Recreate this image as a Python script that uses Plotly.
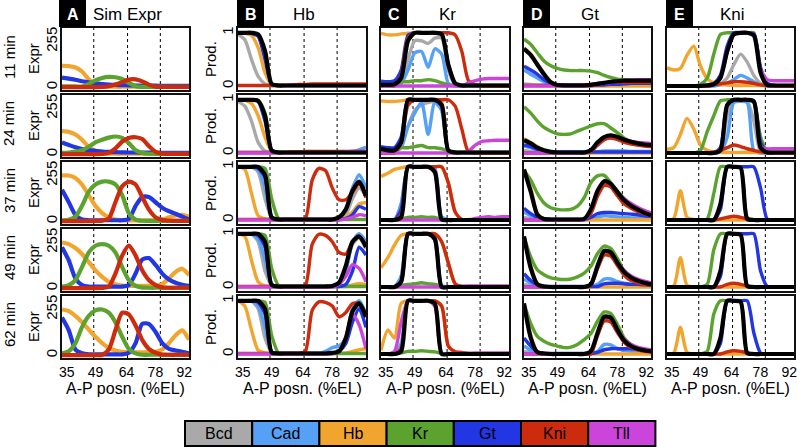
import plotly.graph_objects as go

W, H = 797, 447
FONT = "Liberation Sans, Arial, Helvetica, sans-serif"

# ---------------- data ----------------
# sample positions along the A-P axis (%EL)
X = [32.7, 36.0, 39.2, 42.4, 45.7, 48.9, 52.2, 55.4, 58.6, 61.9,
     65.1, 68.4, 71.6, 74.8, 78.1, 81.3, 84.6, 87.8, 91.0, 94.3]
X_RANGE = [32.7, 94.3]
X_TICKS = [35, 49, 64, 78, 92]
DASH_X = [48.1, 64.5, 80.4]
ROW_LABELS = ["11 min", "24 min", "37 min", "49 min", "62 min"]
COL_LETTERS = ["A", "B", "C", "D", "E"]
COL_TITLES = ["Sim Expr", "Hb", "Kr", "Gt", "Kni"]
LEGEND_NAMES = ["Bcd", "Cad", "Hb", "Kr", "Gt", "Kni", "Tll"]
EXPR_TICKS = [0, 255]
PROD_TICKS = [0, 1]

# Column A: simulated expression (0-255)
A1 = dict(
    hb=[120, 118, 110, 88, 45, 15, 6, 4, 3, 3, 3, 3, 3, 3, 3, 3, 3, 3, 3, 3],
    gt=[54, 48, 42, 34, 28, 22, 18, 15, 13, 12, 11, 10, 10, 9, 9, 8, 8, 8, 8, 8],
    kr=[5, 5, 5, 4, 19, 39, 52, 58, 56, 46, 25, 6, 2, 2, 2, 2, 2, 2, 2, 2],
    kni=[1, 1, 1, 1, 1, 1, 2, 6, 15, 29, 43, 44, 33, 15, 4, 2, 2, 2, 2, 2])
A2 = dict(
    hb=[129, 125, 110, 81, 42, 19, 8, 4, 3, 3, 3, 3, 3, 3, 3, 3, 3, 3, 3, 3],
    gt=[66, 52, 39, 29, 23, 19, 15, 13, 12, 11, 10, 10, 9, 9, 9, 8, 8, 8, 8, 8],
    kr=[8, 10, 15, 23, 42, 66, 81, 93, 99, 91, 62, 23, 8, 3, 2, 2, 2, 2, 2, 2],
    kni=[1, 1, 1, 1, 1, 1, 2, 8, 33, 71, 91, 95, 85, 46, 14, 4, 2, 2, 2, 2])
A3 = dict(
    hb=[255, 255, 241, 205, 145, 86, 46, 22, 10, 6, 5, 5, 5, 5, 6, 10, 22, 32, 36, 26],
    gt=[175, 106, 36, 10, 6, 6, 6, 6, 6, 6, 12, 86, 135, 135, 106, 76, 56, 42, 26, 10],
    kr=[6, 8, 26, 86, 165, 205, 221, 221, 205, 145, 46, 10, 3, 2, 2, 2, 2, 2, 2, 2],
    kni=[1, 1, 1, 1, 1, 2, 4, 16, 106, 195, 221, 205, 135, 66, 22, 8, 3, 2, 2, 2])
A4 = dict(
    hb=[255, 246, 224, 191, 146, 100, 64, 36, 22, 15, 13, 13, 13, 13, 13, 24, 55, 91, 109, 73],
    gt=[228, 155, 55, 18, 9, 9, 9, 9, 9, 9, 18, 82, 160, 168, 130, 82, 49, 31, 20, 13],
    kr=[9, 18, 46, 118, 200, 237, 246, 237, 200, 118, 46, 13, 4, 3, 3, 3, 3, 3, 3, 3],
    kni=[1, 1, 1, 1, 1, 1, 2, 9, 82, 182, 237, 182, 100, 46, 18, 5, 3, 3, 3, 3])
A5 = dict(
    hb=[255, 246, 219, 184, 143, 103, 68, 41, 27, 20, 18, 16, 16, 16, 20, 32, 68, 112, 139, 86],
    gt=[210, 139, 32, 11, 5, 5, 5, 5, 5, 5, 14, 68, 175, 175, 130, 68, 36, 27, 20, 11],
    kr=[11, 23, 68, 157, 219, 250, 255, 237, 184, 103, 36, 11, 3, 3, 3, 3, 3, 3, 3, 3],
    kni=[1, 1, 1, 1, 1, 1, 3, 32, 139, 237, 228, 166, 86, 36, 14, 4, 3, 3, 3, 3])

# Column B: Hb production
B1 = dict(
    bcd=[.97, .87, .5, .18, .04, .01, .01, .01, .01, .01, .01, .01, .01, .01, .01, .01, .01, .01, .01, .01],
    hb=[1, .99, .95, .72, .25, .02, .01, .01, .01, .01, .01, .01, .01, .01, .01, .01, .01, .01, .01, .01],
    gt=[1, 1, .99, .93, .5, .03, .01, .01, .01, .01, .01, .01, .01, .01, .01, .01, .01, .01, .01, .01],
    kni=[.01, .01, .01, .01, .01, .01, .01, .01, .02, .03, .03, .04, .04, .04, .04, .04, .04, .04, .04, .04],
    prod=[1, 1, 1, .97, .66, .04, .01, .01, .01, .01, .01, .01, .01, .01, .01, .01, .01, .01, .01, .01])
B2 = dict(
    bcd=[.97, .88, .6, .2, .04, .01, .01, .01, .01, .01, .01, .01, .01, .01, .01, .01, .01, .01, .01, .01],
    cad=[.01, .01, .01, .01, .01, .01, .01, .01, .01, .01, .01, .01, .01, .01, .01, .02, .02, .03, .06, .11],
    hb=[1, .99, .93, .7, .3, .03, .01, .01, .01, .01, .01, .01, .01, .01, .01, .01, .01, .01, .01, .01],
    kr=[1, 1, 1, .99, .75, .05, .01, .01, .01, .01, .01, .01, .01, .01, .01, .01, .01, .01, .01, .01],
    gt=[1, 1, 1, .97, .6, .04, .01, .01, .01, .01, .01, .01, .01, .01, .01, .01, .01, .01, .01, .01],
    kni=[.01, .01, .01, .01, .01, .01, .01, .01, .02, .02, .03, .03, .03, .03, .03, .03, .03, .03, .03, .03],
    tll=[0, 0, 0, 0, 0, 0, 0, 0, 0, 0, 0, 0, 0, 0, .01, .01, .02, .03, .03, .03],
    prod=[1, 1, 1, .98, .7, .05, .01, .01, .01, .01, .01, .01, .01, .01, .01, .01, .01, .01, .01, .01])
B3 = dict(
    bcd=[1, 1, 1, .9, .4, .05, .01, .01, .01, .01, .01, .01, .01, .01, .02, .04, .1, .4, .6, .45],
    cad=[1, 1, 1, .95, .6, .05, .01, .01, .01, .01, .01, .01, .01, .01, .01, .05, .2, .6, .85, .6],
    hb=[1, .95, .5, .08, .02, .01, .01, .01, .01, .01, .01, .01, .01, .01, .01, .02, .05, .15, .3, .33],
    kr=[1, 1, 1, 1, .97, .4, .03, .01, .01, .01, .01, .01, .01, .01, .01, .01, .01, .01, .01, .01],
    gt=[1, 1, 1, .97, .8, .05, .01, .01, .01, .01, .01, .01, .01, .01, .01, .01, .03, .1, .25, .2],
    kni=[.01, .01, .01, .01, .01, .01, .01, .01, .01, .01, .02, .75, .97, .93, .6, .38, .38, .52, .68, .42],
    tll=[0, 0, 0, 0, 0, 0, 0, 0, 0, 0, 0, 0, 0, 0, 0, 0, .02, .05, .1, .08],
    prod=[1, 1, 1, 1, .85, .05, .01, .01, .01, .01, .01, .01, .01, .01, .01, .05, .2, .55, .72, .45])
B4 = dict(
    bcd=[1, 1, 1, .85, .3, .03, .01, .01, .01, .01, .01, .01, .01, .01, .01, .05, .35, .8, .92, .72],
    cad=[1, 1, 1, .9, .5, .04, .01, .01, .01, .01, .01, .01, .01, .01, .01, .08, .3, .85, 1, .85],
    hb=[1, .95, .5, .1, .02, .01, .01, .01, .01, .01, .01, .01, .01, .01, .01, .01, .01, .04, .06, .05],
    kr=[1, 1, 1, 1, .97, .35, .03, .01, .01, .01, .01, .01, .01, .01, .01, .01, .01, .01, .01, .01],
    gt=[1, 1, 1, .97, .75, .05, .01, .01, .01, .01, .01, .01, .01, .01, .01, .01, .05, .3, .75, .6],
    kni=[.01, .01, .01, .01, .01, .01, .01, .01, .01, .01, .03, .8, .99, .97, .85, .65, .62, .85, .95, .78],
    tll=[0, 0, 0, 0, 0, 0, 0, 0, 0, 0, 0, 0, 0, 0, 0, .05, .2, .42, .35, .1],
    prod=[1, 1, 1, 1, .85, .04, .01, .01, .01, .01, .01, .01, .01, .01, .02, .08, .4, .85, .95, .75])
B5 = dict(
    bcd=[1, 1, 1, .85, .3, .03, .01, .01, .01, .01, .01, .01, .01, .01, .02, .05, .3, .8, .92, .68],
    cad=[1, 1, 1, .9, .5, .04, .01, .01, .01, .01, .01, .01, .01, .05, .12, .15, .3, .85, 1, .75],
    hb=[1, .9, .45, .07, .02, .01, .01, .01, .01, .01, .01, .01, .01, .01, .01, .01, .02, .05, .08, .1],
    kr=[1, 1, 1, 1, .97, .35, .02, .01, .01, .01, .01, .01, .01, .01, .01, .01, .01, .01, .01, .01],
    gt=[1, 1, 1, .97, .75, .04, .01, .01, .01, .01, .01, .01, .01, .01, .01, .05, .2, .6, .85, .5],
    kni=[.01, .01, .01, .01, .01, .01, .01, .01, .01, .01, .05, .82, .98, .97, .9, .7, .78, .95, .95, .75],
    tll=[0, 0, 0, 0, 0, 0, 0, 0, 0, 0, 0, 0, 0, 0, .01, .05, .3, .75, .55, .1],
    prod=[1, 1, 1, 1, .85, .03, .01, .01, .01, .01, .01, .01, .01, .01, .02, .05, .3, .8, .95, .7])

# Column C: Kr production
C1 = dict(
    bcd=[0, 0, .01, .05, .5, .85, .85, .8, .9, .9, .3, .02, 0, 0, 0, 0, 0, 0, 0, 0],
    cad=[0, 0, .01, .05, .3, .62, .65, .35, .7, .6, .05, 0, 0, 0, 0, 0, 0, 0, 0, 0],
    hb=[.99, .96, .96, .98, .99, 1, 1, 1, 1, .98, .4, .03, .01, .01, .01, .01, .01, .01, .01, .01],
    kr=[.03, .05, .05, .08, .08, .1, .1, .12, .1, .06, .02, .01, .01, .01, .01, .01, .01, .01, .01, .01],
    gt=[.09, .08, .1, .3, .95, 1, 1, 1, 1, .98, .4, .03, .01, .01, .01, .01, .01, .01, .01, .01],
    kni=[0, 0, 0, .2, .9, 1, 1, 1, 1, 1, 1, .96, .65, .1, .02, 0, 0, 0, 0, 0],
    tll=[0, 0, 0, 0, 0, 0, 0, 0, 0, 0, 0, 0, 0, .06, .1, .13, .14, .14, .14, .14],
    prod=[.02, .02, .03, .15, .85, 1, 1, 1, 1, .97, .4, .05, .01, .01, .01, .01, .01, .01, .01, .01])
C2 = dict(
    bcd=[0, 0, .02, .2, .5, .8, .9, .95, .97, .8, .05, 0, 0, 0, 0, 0, 0, 0, 0, 0],
    cad=[0, 0, .02, .1, .5, .75, .95, .35, .95, .8, .05, 0, 0, 0, 0, 0, 0, 0, 0, 0],
    hb=[.98, .97, .97, .98, 1, 1, 1, 1, 1, .95, .05, .01, .01, .01, .01, .01, .01, .01, .01, .01],
    kr=[.05, .06, .08, .1, .1, .12, .14, .1, .1, .08, .04, .02, .01, .01, .01, .01, .01, .01, .01, .01],
    gt=[.12, .1, .1, .3, 1, 1, 1, 1, 1, .9, .05, .01, .01, .01, .01, .01, .01, .01, .01, .01],
    kni=[0, 0, 0, .2, .9, 1, 1, 1, 1, 1, 1, .88, .45, .02, 0, 0, 0, 0, 0, 0],
    tll=[0, 0, 0, 0, 0, 0, 0, 0, 0, 0, 0, 0, 0, .03, .15, .22, .23, .24, .24, .24],
    prod=[.08, .05, .05, .2, 1, 1, 1, 1, 1, .9, .05, .01, .01, .01, .01, .01, .01, .01, .01, .01])
C3 = dict(
    bcd=[0, 0, 0, .3, 1, 1, 1, 1, .95, .03, 0, 0, 0, 0, 0, 0, 0, 0, 0, 0],
    cad=[0, 0, 0, .3, 1, 1, 1, 1, .97, .06, 0, 0, 0, 0, 0, 0, 0, 0, 0, 0],
    hb=[.82, .88, .95, .98, 1, 1, 1, 1, 1, 1, .7, .15, .01, .01, .01, .01, .01, .01, .01, .01],
    kr=[0, 0, 0, .02, .05, .05, .06, .05, .05, .01, 0, 0, 0, 0, 0, 0, 0, 0, 0, 0],
    gt=[0, 0, 0, .2, 1, 1, 1, 1, .9, .02, 0, 0, 0, 0, 0, 0, 0, 0, 0, 0],
    kni=[0, 0, 0, .1, 1, 1, 1, 1, 1, 1, .7, .15, .01, 0, 0, 0, 0, 0, 0, 0],
    tll=[0, 0, 0, 0, 0, 0, 0, 0, 0, 0, 0, 0, 0, 0, .03, .05, .06, .05, .06, .06],
    prod=[0, 0, 0, .05, 1, 1, 1, 1, .9, .01, 0, 0, 0, 0, 0, 0, 0, 0, 0, 0])
C4 = dict(
    bcd=[0, 0, 0, .2, 1, 1, 1, 1, .92, .01, 0, 0, 0, 0, 0, 0, 0, 0, 0, 0],
    cad=[0, 0, 0, .2, 1, 1, 1, 1, .95, .03, 0, 0, 0, 0, 0, 0, 0, 0, 0, 0],
    hb=[.36, .55, .79, .97, 1, 1, 1, 1, 1, .85, .45, .06, .01, .01, .01, .01, .01, .01, .01, .01],
    kr=[0, 0, 0, .03, .05, .06, .08, .06, .05, .01, 0, 0, 0, 0, 0, 0, 0, 0, 0, 0],
    gt=[0, 0, 0, .1, 1, 1, 1, 1, .9, 0, 0, 0, 0, 0, 0, 0, 0, 0, 0, 0],
    kni=[0, 0, 0, .1, 1, 1, 1, 1, 1, .85, .45, .06, .01, 0, 0, 0, 0, 0, 0, 0],
    tll=[0, 0, 0, 0, 0, 0, 0, 0, 0, 0, 0, 0, .01, .02, .02, .02, .02, .02, .02, .02],
    prod=[0, 0, 0, .1, 1, 1, 1, 1, .9, 0, 0, 0, 0, 0, 0, 0, 0, 0, 0, 0])
C5 = dict(
    cad=[0, 0, 0, .2, 1, 1, 1, 1, .95, .02, 0, 0, 0, 0, 0, 0, 0, 0, 0, 0],
    hb=[.07, .45, .3, .95, 1, 1, 1, 1, 1, .9, .15, .04, .01, .01, .01, .01, .01, .01, .01, .01],
    kr=[0, 0, 0, .02, .05, .05, .06, .05, .04, .01, 0, 0, 0, 0, 0, 0, 0, 0, 0, 0],
    kni=[0, 0, 0, .1, 1, 1, 1, 1, 1, .9, .15, .04, .03, .01, 0, 0, 0, 0, 0, 0],
    tll=[0, 0, .05, .6, 1, 1, 1, 1, .9, .01, .01, .01, .01, .01, .02, .02, .02, .02, .02, .02],
    prod=[0, 0, 0, .05, 1, 1, 1, 1, .95, 0, 0, 0, 0, 0, 0, 0, 0, 0, 0, 0])

# Column D: Gt production
D1 = dict(
    bcd=[.04, .03, .02, .02, .02, .02, .02, .02, .02, .02, .02, .02, .02, .02, .02, .02, .02, .02, .02, .02],
    cad=[.3, .22, .15, .08, .03, .01, .01, .01, .01, .01, .01, .01, .01, .02, .02, .03, .04, .04, .04, .04],
    hb=[.72, .6, .42, .24, .08, .02, .01, 0, 0, 0, 0, 0, 0, 0, 0, 0, 0, 0, 0, 0],
    kr=[.88, .78, .62, .47, .38, .33, .3, .29, .29, .29, .28, .25, .2, .16, .13, .12, .11, .1, .1, .1],
    gt=[.37, .3, .22, .12, .05, .02, .02, .02, .02, .02, .02, .02, .02, .03, .03, .04, .05, .05, .05, .05],
    kni=[.01, .01, .01, .01, .01, .01, .01, .01, .01, .02, .03, .05, .06, .07, .07, .07, .07, .07, .07, .07],
    tll=[0, 0, 0, 0, 0, 0, 0, 0, 0, 0, 0, .03, .05, .07, .08, .1, .11, .12, .12, .12],
    prod=[.7, .58, .4, .22, .07, .02, .01, .01, .01, .01, .02, .04, .06, .08, .09, .1, .1, .1, .1, .1])
D2 = dict(
    bcd=[.05, .03, .02, .02, .01, .01, .01, .01, .01, .01, .04, .15, .25, .3, .28, .23, .2, .17, .15, .14],
    cad=[.13, .1, .06, .03, .01, .01, .01, .01, .01, .01, .01, .02, .04, .04, .04, .04, .03, .03, .03, .03],
    hb=[.27, .2, .12, .05, .02, .01, 0, 0, 0, 0, 0, 0, 0, 0, 0, 0, 0, 0, 0, 0],
    kr=[.87, .75, .6, .48, .41, .36, .35, .36, .41, .46, .51, .55, .55, .47, .38, .28, .22, .19, .17, .16],
    gt=[.15, .12, .07, .04, .02, .02, .02, .02, .02, .02, .02, .02, .02, .02, .02, .02, .02, .02, .02, .02],
    kni=[0, 0, 0, 0, 0, 0, 0, 0, 0, 0, .03, .15, .25, .28, .25, .2, .17, .15, .13, .12],
    tll=[0, 0, 0, 0, 0, 0, 0, 0, 0, 0, .04, .19, .29, .32, .29, .25, .22, .2, .19, .18],
    prod=[.24, .18, .1, .05, .02, .01, .01, .01, .01, .01, .05, .2, .3, .33, .3, .25, .21, .18, .16, .15])
D3 = dict(
    bcd=[.05, .03, .02, .01, .01, .01, .01, .01, .01, .01, .15, .5, .68, .64, .48, .33, .24, .18, .13, .08],
    cad=[.15, .08, .03, .01, .01, .01, .01, .01, .01, .01, .02, .05, .08, .07, .06, .05, .04, .04, .03, .03],
    hb=[.95, .6, .12, .02, .01, 0, 0, 0, 0, 0, 0, 0, 0, 0, 0, 0, 0, 0, 0, 0],
    kr=[.93, .75, .5, .32, .23, .2, .19, .2, .26, .42, .7, .83, .84, .7, .54, .4, .3, .22, .16, .11],
    gt=[.22, .12, .05, .02, .01, .01, .01, .01, .01, .01, .05, .12, .14, .14, .13, .12, .11, .1, .08, .07],
    kni=[0, 0, 0, 0, 0, 0, 0, 0, 0, .01, .12, .45, .65, .62, .45, .3, .22, .16, .12, .08],
    tll=[0, 0, 0, 0, 0, 0, 0, 0, 0, 0, .19, .54, .72, .67, .52, .4, .31, .24, .18, .13],
    prod=[.95, .53, .1, .02, .01, .01, .01, .01, .01, .02, .2, .55, .73, .68, .52, .37, .27, .2, .14, .09])
D4 = dict(
    bcd=[.05, .02, .01, .01, 0, 0, 0, 0, 0, 0, .04, .38, .64, .62, .43, .25, .15, .1, .06, .05],
    cad=[.15, .07, .02, .01, 0, 0, 0, 0, 0, 0, .01, .05, .15, .15, .1, .07, .05, .04, .03, .03],
    hb=[.95, .4, .06, .01, 0, 0, 0, 0, 0, 0, 0, 0, 0, 0, 0, 0, 0, 0, 0, 0],
    kr=[.95, .56, .32, .23, .17, .15, .14, .15, .19, .26, .39, .63, .77, .72, .53, .3, .18, .12, .08, .05],
    gt=[.25, .12, .04, .01, .01, .01, .01, .01, .01, .01, .01, .01, .06, .07, .07, .06, .05, .05, .04, .03],
    kni=[0, 0, 0, 0, 0, 0, 0, 0, 0, 0, .03, .35, .6, .58, .4, .22, .12, .08, .05, .04],
    tll=[0, 0, 0, 0, 0, 0, 0, 0, 0, 0, .04, .39, .67, .64, .45, .31, .21, .15, .11, .08],
    prod=[.95, .35, .05, .01, 0, 0, 0, 0, 0, 0, .05, .4, .68, .65, .45, .28, .18, .12, .08, .05])
D5 = dict(
    bcd=[.05, .02, .01, .01, 0, 0, 0, 0, 0, 0, 0, .38, .66, .64, .43, .23, .14, .09, .06, .05],
    cad=[.15, .07, .02, .01, 0, 0, 0, 0, 0, 0, .01, .05, .18, .17, .1, .07, .05, .04, .03, .03],
    hb=[.95, .35, .04, .01, 0, 0, 0, 0, 0, 0, 0, 0, 0, 0, 0, 0, 0, 0, 0, 0],
    kr=[.95, .57, .33, .24, .18, .15, .12, .13, .18, .27, .38, .62, .79, .76, .55, .3, .18, .11, .08, .06],
    gt=[.3, .15, .04, .01, .01, .01, .01, .01, .01, .01, .01, .03, .08, .1, .1, .1, .1, .09, .08, .07],
    kni=[0, 0, 0, 0, 0, 0, 0, 0, 0, 0, 0, .35, .62, .6, .4, .22, .12, .08, .05, .04],
    tll=[0, 0, 0, 0, 0, 0, 0, 0, 0, 0, .04, .39, .69, .67, .45, .28, .18, .13, .1, .08],
    prod=[.95, .3, .03, .01, 0, 0, 0, 0, 0, 0, .05, .4, .7, .68, .45, .25, .15, .1, .07, .05])

# Column E: Kni production
E1 = dict(
    bcd=[0, 0, 0, 0, 0, 0, 0, .02, .05, .15, .4, .6, .45, .2, .05, .01, 0, 0, 0, 0],
    cad=[0, 0, 0, 0, 0, 0, 0, 0, .02, .05, .12, .2, .15, .08, .02, 0, 0, 0, 0, 0],
    hb=[.34, .3, .33, .58, .75, .38, .14, .06, .03, .02, .01, .01, .01, .01, .01, .01, .01, .01, .01, .01],
    kr=[0, 0, 0, 0, 0, .03, .15, .6, .97, 1, 1, 1, 1, 1, .3, .05, .01, 0, 0, 0],
    gt=[0, 0, 0, 0, 0, .01, .02, .05, .2, .75, 1, 1, 1, .98, .35, .05, .01, 0, 0, 0],
    kni=[0, 0, 0, 0, 0, 0, 0, .02, .04, .06, .08, .08, .07, .05, .02, .01, 0, 0, 0, 0],
    tll=[0, 0, 0, 0, 0, 0, .01, .03, .15, .65, .97, 1, 1, .96, .3, .12, .1, .1, .1, .1],
    prod=[0, 0, 0, 0, 0, 0, .01, .03, .15, .65, .97, 1, 1, .95, .25, .02, .01, .01, .01, .01])
E2 = dict(
    bcd=[0, 0, 0, 0, 0, 0, 0, 0, .05, .7, .97, .97, .97, .6, .02, 0, 0, 0, 0, 0],
    cad=[0, 0, 0, 0, 0, 0, 0, 0, .02, .3, .95, .97, .95, .05, 0, 0, 0, 0, 0, 0],
    hb=[.07, .1, .35, .65, .45, .15, .05, .02, .01, .01, .01, .01, .01, .01, .01, .01, .01, .01, .01, .01],
    kr=[0, 0, 0, 0, 0, .05, .4, .7, .98, 1, 1, 1, 1, .95, .3, .03, 0, 0, 0, 0],
    gt=[0, 0, 0, 0, 0, 0, 0, 0, .1, .9, 1, 1, 1, .98, .2, .02, 0, 0, 0, 0],
    kni=[0, 0, 0, 0, 0, 0, 0, .02, .05, .1, .15, .12, .08, .05, .02, .01, 0, 0, 0, 0],
    tll=[0, 0, 0, 0, 0, 0, 0, 0, .05, .9, 1, 1, 1, .97, .12, .08, .08, .08, .08, .08],
    prod=[0, 0, 0, 0, 0, 0, 0, 0, .05, .9, 1, 1, 1, .97, .1, .01, .01, .01, .01, .01])
E3 = dict(
    hb=[0, .03, .55, .05, .01, 0, 0, 0, 0, 0, 0, 0, 0, 0, 0, 0, 0, 0, 0, 0],
    kr=[0, 0, 0, 0, 0, 0, .02, .5, 1, 1, 1, 1, .05, 0, 0, 0, 0, 0, 0, 0],
    gt=[0, 0, 0, 0, 0, 0, 0, 0, .2, 1, 1, 1, 1, 1, .6, .02, 0, 0, 0, 0],
    kni=[0, 0, 0, 0, 0, 0, 0, 0, .02, .05, .07, .05, .02, 0, 0, 0, 0, 0, 0, 0],
    prod=[0, 0, 0, 0, 0, 0, 0, 0, .3, 1, 1, .98, .02, 0, 0, 0, 0, 0, 0, 0])
E4 = dict(
    hb=[0, .02, .55, .03, 0, 0, 0, 0, 0, 0, 0, 0, 0, 0, 0, 0, 0, 0, 0, 0],
    kr=[0, 0, 0, 0, 0, 0, .05, .7, 1, 1, 1, 1, .02, 0, 0, 0, 0, 0, 0, 0],
    gt=[0, 0, 0, 0, 0, 0, 0, 0, .2, 1, 1, 1, 1, 1, .3, .01, 0, 0, 0, 0],
    kni=[0, 0, 0, 0, 0, 0, 0, 0, 0, .05, .07, .05, .02, 0, 0, 0, 0, 0, 0, 0],
    prod=[0, 0, 0, 0, 0, 0, 0, 0, .3, 1, 1, .98, .02, 0, 0, 0, 0, 0, 0, 0])
E5 = dict(
    hb=[0, .02, .5, .03, 0, 0, 0, 0, 0, 0, 0, 0, 0, 0, 0, 0, 0, 0, 0, 0],
    kr=[0, 0, 0, 0, 0, 0, .05, .75, 1, 1, 1, 1, .02, 0, 0, 0, 0, 0, 0, 0],
    gt=[0, 0, 0, 0, 0, 0, 0, 0, .2, 1, 1, 1, 1, .4, .02, 0, 0, 0, 0, 0],
    kni=[0, 0, 0, 0, 0, 0, 0, 0, 0, .04, .06, .05, .02, 0, 0, 0, 0, 0, 0, 0],
    prod=[0, 0, 0, 0, 0, 0, 0, 0, .3, 1, 1, .98, .02, 0, 0, 0, 0, 0, 0, 0])

PANELS = [
    [A1, B1, C1, D1, E1],
    [A2, B2, C2, D2, E2],
    [A3, B3, C3, D3, E3],
    [A4, B4, C4, D4, E4],
    [A5, B5, C5, D5, E5],
]

# ---------------- styling ----------------
COLORS = dict(bcd="#A9A9A9", cad="#56A0F5", hb="#F2A52E", kr="#5BA22E",
              gt="#2236E3", kni="#CC2B0D", tll="#CC45DA", prod="#000000")
LEG_KEYS = ["bcd", "cad", "hb", "kr", "gt", "kni", "tll"]
ORDER_A = ["hb", "gt", "kr", "kni"]
ORDER = ["bcd", "cad", "hb", "kr", "gt", "kni", "tll", "prod"]

COLX = [(62, 189), (238, 366), (381, 509), (524, 651), (667, 794)]
ROWY = [(28, 90), (95, 157), (162, 224), (229, 291), (296, 358)]
EXPR_RANGE = [-15, 330]
PROD_RANGE = [-0.075, 1.09]


def px(x):
    return x / W


def py(y):
    return 1 - y / H


def label(text, x, y, size=15, color="black", angle=0):
    return dict(text=text, x=px(x), y=py(y), xref="paper", yref="paper",
                xanchor="center", yanchor="middle", showarrow=False,
                textangle=angle, font=dict(size=size, family=FONT, color=color))


fig = go.Figure()
layout = {}
shapes = []
annotations = []

for r in range(5):
    for c in range(5):
        n = r * 5 + c + 1
        sfx = "" if n == 1 else str(n)
        xref, yref = "x" + sfx, "y" + sfx
        d = PANELS[r][c]
        for k in (ORDER_A if c == 0 else ORDER):
            if k not in d:
                continue
            assert len(d[k]) == len(X), (r, c, k, len(d[k]))
            if c == 0:
                wdt = 4.2
            else:
                wdt = 4.2 if k == "prod" else 3.4
            fig.add_trace(go.Scatter(
                x=X, y=d[k], mode="lines", xaxis=xref, yaxis=yref,
                line=dict(color=COLORS[k], width=wdt, shape="spline", smoothing=0.7),
                showlegend=False, hoverinfo="skip"))
        x0, x1 = COLX[c]
        y0, y1 = ROWY[r]
        layout["xaxis" + sfx] = dict(
            domain=[px(x0), px(x1)], range=X_RANGE, anchor=yref, automargin=False,
            showline=True, mirror=True, linecolor="#111", linewidth=1.5,
            showgrid=False, zeroline=False, ticks="", tickvals=X_TICKS,
            ticklabeloverflow="allow",
            showticklabels=(r == 4), tickfont=dict(size=14, color="black", family=FONT))
        ya = dict(
            domain=[py(y1), py(y0)], anchor=xref, automargin=False,
            showline=True, mirror=True, linecolor="#111", linewidth=1.5,
            showgrid=False, zeroline=False, ticks="", ticklabelstandoff=-3,
            tickfont=dict(size=15, color="black", family=FONT), tickangle=-90)
        if c == 0:
            ya.update(range=EXPR_RANGE, tickvals=EXPR_TICKS, showticklabels=True)
        else:
            ya.update(range=PROD_RANGE, tickvals=PROD_TICKS, showticklabels=(c == 1))
        layout["yaxis" + sfx] = ya
        for dx in DASH_X:
            shapes.append(dict(type="line", xref=xref, yref=yref + " domain",
                               x0=dx, x1=dx, y0=0, y1=1, layer="below",
                               line=dict(color="black", width=1, dash="3px,3px")))

# row labels, y-titles
for r in range(5):
    yc = (ROWY[r][0] + ROWY[r][1]) / 2
    annotations.append(label(ROW_LABELS[r], 9, yc - 2, angle=-90))
    annotations.append(label("Expr", 33, yc, angle=-90))
    annotations.append(label("Prod.", 210, yc, angle=-90))

# headers and x titles
for c in range(5):
    x0, x1 = COLX[c]
    bx0 = 59 if c == 0 else x0 - 1
    shapes.append(dict(type="rect", xref="paper", yref="paper", x0=px(bx0), x1=px(bx0 + 27),
                       y0=py(27), y1=py(0), fillcolor="black", line=dict(width=0)))
    annotations.append(label("<b>%s</b>" % COL_LETTERS[c], bx0 + 13.5, 14, size=16, color="white"))
    annotations.append(label(COL_TITLES[c], (x0 + x1) / 2 + 2, 14, size=17))
    annotations.append(label("A-P posn. (%EL)", (x0 + x1) / 2, 388, size=16))

# legend boxes
LX0, LW, LY0, LY1 = 185, 67.2, 421, 446
for i, name in enumerate(LEGEND_NAMES):
    a = LX0 + i * LW
    shapes.append(dict(type="rect", xref="paper", yref="paper", x0=px(a), x1=px(a + LW),
                       y0=py(LY1), y1=py(LY0), fillcolor=COLORS[LEG_KEYS[i]],
                       line=dict(color="black", width=2)))
    annotations.append(label(name, a + LW / 2, (LY0 + LY1) / 2, size=16))

fig.update_layout(
    width=W, height=H, autosize=False,
    margin=dict(l=0, r=0, t=0, b=0, autoexpand=False),
    paper_bgcolor="white", plot_bgcolor="white",
    font=dict(family=FONT, color="black"),
    shapes=shapes, annotations=annotations, showlegend=False,
    **layout)

fig.write_html("out.html", config={"displayModeBar": False},
               post_script="document.body.style.margin='0';document.body.style.padding='0';")
